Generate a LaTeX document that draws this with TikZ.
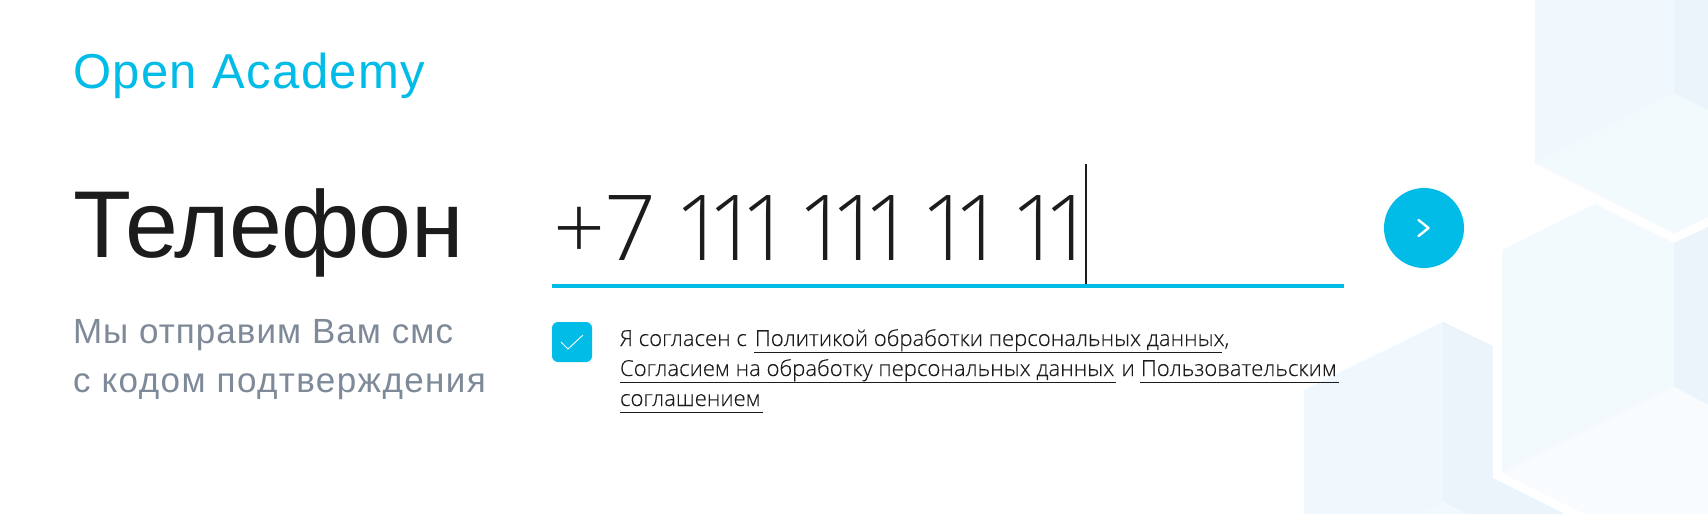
\documentclass[tikz,border=0pt]{standalone}
\usepackage{fontspec}
\setmainfont{Open Sans}
\newfontfamily\lightf[FakeBold=0.2]{Open Sans Light}
\newfontfamily\headf[LetterSpace=-0.6]{Liberation Sans}
\newfontfamily\brandf[LetterSpace=3]{Liberation Sans}
\newfontfamily\subf[LetterSpace=3]{Liberation Sans}
\newfontfamily\subg[LetterSpace=4]{Liberation Sans}
\newfontfamily\numf[Numbers=Proportional]{Open Sans Light}
\definecolor{cy}{HTML}{00BCE6}
\definecolor{ink}{HTML}{1C1C1C}
\definecolor{gr}{HTML}{7F8A99}
\definecolor{hexa}{HTML}{F0F7FD}
\definecolor{hexb}{HTML}{ECF4FB}
\definecolor{hexc}{HTML}{F3FAFE}
\definecolor{hexd}{HTML}{F8FCFE}
\tikzset{txt/.style={anchor=base west,inner sep=0pt,outer sep=0pt},
 ul/.style={draw=ink,line width=1.1pt}}
\begin{document}
\begin{tikzpicture}[x=1pt,y=-1pt]
\useasboundingbox (0,0) rectangle (1708,514);
\fill[white] (0,0) rectangle (1708,514);
% hexagons
\fill[hexa] (1535,0) -- (1708,0) -- (1708,217) -- (1674,233) -- (1535,163) -- cycle;
\fill[hexb] (1674,0) -- (1708,0) -- (1708,110) -- (1674,93) -- cycle;
\fill[hexc] (1535,163) -- (1674,93) -- (1708,110) -- (1708,217) -- (1674,233) -- cycle;
\fill[hexc] (1502,250) -- (1595,204) -- (1674,243) -- (1708,227) -- (1708,514) -- (1586,514) -- (1502,473) -- cycle;
\fill[hexb] (1674,243) -- (1708,227) -- (1708,405) -- (1674,387) -- cycle;
\fill[hexd] (1502,473) -- (1674,387) -- (1708,405) -- (1708,514) -- (1586,514) -- cycle;
\fill[hexa] (1304,390) -- (1443,322) -- (1492.5,346) -- (1492.5,478) -- (1564,514) -- (1304,514) -- cycle;
\fill[hexb] (1443,322) -- (1492.5,346) -- (1492.5,478) -- (1564,514) -- (1467,514) -- (1443,502) -- cycle;
\fill[hexc] (1443,502) -- (1467,514) -- (1419,514) -- cycle;
% texts
\node[txt,text=cy,font=\brandf\fontsize{49}{49}\selectfont] (brand) at (73,88) {Open Academy};
\node[txt,text=ink,font=\headf\fontsize{95}{95}\selectfont] (title) at (73,257) {Телефон};
\node[txt,text=gr,font=\subf\fontsize{35}{35}\selectfont] (sub1) at (73,343) {Мы отправим Вам смс};
\node[txt,text=gr,font=\subg\fontsize{35}{35}\selectfont] (sub2) at (73,392) {с кодом подтверждения};
\node[txt,text=ink,font=\numf\fontsize{91}{91}\selectfont] (phone) at (553,260) {+7 111 111 11 11};
% field
\fill[cy] (552,284) rectangle (1344,288);
\coordinate (caretTop) at (1086,164);
\coordinate (caretBot) at (1086,284);
\draw[ink,line width=1.6pt] (caretTop) -- (caretBot);
% button
\node[circle,fill=cy,minimum size=80pt,inner sep=0pt] (btn) at (1424,228) {};
\draw[white,line width=2.4pt,line cap=round,line join=round] (1418.5,220) -- (1428.5,228) -- (1418.5,236);
% checkbox
\fill[cy,rounded corners=6pt] (552,322) rectangle (592,362);
\draw[white,line width=0.9pt] (561,342) -- (568,349) -- (583,335);
% consent
\begin{scope}[font=\lightf\fontsize{22.1}{22.1}\selectfont,text=ink]
\node[txt] (c1) at (620,346) {Я согласен с};
\node[txt] (c2) at (755,346) {Политикой обработки персональных данных,};
\node[txt] (c3) at (620,376) {Согласием на обработку персональных данных};
\node[txt] (c4) at (1121.5,376) {и};
\node[txt] (c5) at (1141,376) {Пользовательским};
\node[txt] (c6) at (620,406) {соглашением};
\end{scope}
\draw[ul] (754,352.5) -- (1222,352.5);
\draw[ul] (620,382.5) -- (1116,382.5);
\draw[ul] (1140,382.5) -- (1339,382.5);
\draw[ul] (620,412.5) -- (763,412.5);
\end{tikzpicture}
\end{document}
